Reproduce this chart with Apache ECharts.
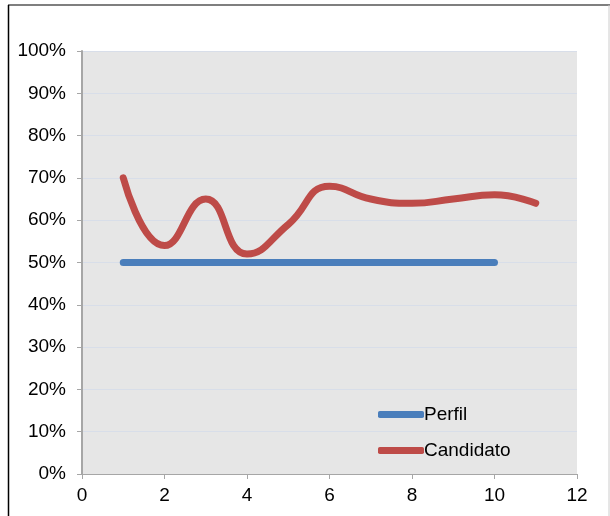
<!DOCTYPE html>
<html><head><meta charset="utf-8">
<script src="https://cdn.jsdelivr.net/npm/echarts@6/dist/echarts.min.js"></script>
<style>html,body{margin:0;padding:0;background:#fff}#c{width:610px;height:516px}</style>
</head><body><div id="c"></div>
<script>
const xTicks = [0, 2, 4, 6, 8, 10, 12];
const perfilX = [1, 2, 3, 4, 5, 6, 7, 8, 9, 10];
const perfilY = [0.50, 0.50, 0.50, 0.50, 0.50, 0.50, 0.50, 0.50, 0.50, 0.50];
const candidatoX = [1, 2, 3, 4, 5, 6, 7, 8, 9, 10, 11];
const candidatoY = [0.70, 0.54, 0.65, 0.52, 0.59, 0.68, 0.65, 0.64, 0.65, 0.66, 0.64];
const seriesNames = ['Perfil', 'Candidato'];

const font = 'Liberation Sans, Arial, sans-serif';
const chart = echarts.init(document.getElementById('c'), null, {renderer: 'canvas'});
chart.setOption({
  animation: false,
  backgroundColor: '#fff',
  graphic: [
    {type: 'line', shape: {x1: 8, y1: 5, x2: 610, y2: 5}, style: {stroke: '#555', lineWidth: 1.5}},
    {type: 'line', shape: {x1: 8.5, y1: 5, x2: 8.5, y2: 516}, style: {stroke: '#000', lineWidth: 1.5}},
    {type: 'line', shape: {x1: 609, y1: 5, x2: 609, y2: 516}, style: {stroke: '#ccc', lineWidth: 1}}
  ],
  grid: {left: 82, right: 33, top: 51, bottom: 42, show: true, backgroundColor: '#e6e6e6', borderWidth: 0},
  legend: {
    orient: 'vertical', left: 373, top: 400, itemWidth: 46, itemHeight: 7, itemGap: 17,
    icon: 'roundRect',
    textStyle: {fontFamily: font, fontSize: 19, color: '#000', padding: [0, 0, 0, -5]},
    data: seriesNames
  },
  xAxis: {
    type: 'value', min: 0, max: 12, interval: 2,
    axisLine: {show: true, lineStyle: {color: '#a6a6a6', width: 1}},
    axisTick: {show: true, length: 5, lineStyle: {color: '#a6a6a6'}},
    axisLabel: {fontFamily: font, fontSize: 19, color: '#000', margin: 12,
      formatter: v => xTicks.includes(v) ? String(v) : ''},
    splitLine: {show: false}
  },
  yAxis: {
    type: 'value', min: 0, max: 1, interval: 0.1,
    axisLine: {show: true, lineStyle: {color: '#a6a6a6', width: 2}},
    axisTick: {show: true, length: 5, lineStyle: {color: '#a6a6a6'}},
    axisLabel: {fontFamily: font, fontSize: 19, color: '#000', margin: 16,
      formatter: v => Math.round(v * 100) + '%'},
    splitLine: {show: true, lineStyle: {color: '#d8dee9', width: 1}}
  },
  series: [
    {name: seriesNames[0], type: 'line', data: perfilX.map((x, i) => [x, perfilY[i]]),
      showSymbol: false, symbol: 'none', color: '#4a7ebb',
      lineStyle: {color: '#4a7ebb', width: 7, cap: 'round'}},
    {name: seriesNames[1], type: 'line', data: candidatoX.map((x, i) => [x, candidatoY[i]]),
      smooth: 0.5, showSymbol: false, symbol: 'none', color: '#be4b48',
      lineStyle: {color: '#be4b48', width: 7, cap: 'round', join: 'round'}}
  ]
});
</script></body></html>
